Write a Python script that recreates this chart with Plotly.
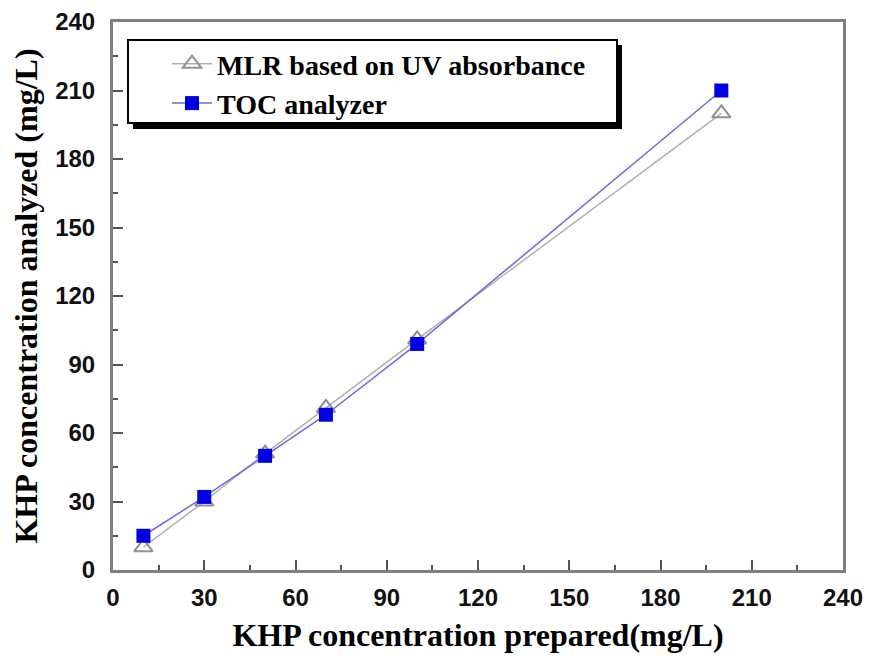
import plotly.graph_objects as go

x_prepared = [10, 30, 50, 70, 100, 200]
mlr_values = [10, 30, 51, 71, 101, 200]
toc_values = [15, 32, 50, 68, 99, 210]
tick_vals = list(range(0, 241, 30))

fig = go.Figure()
fig.add_trace(go.Scatter(
    x=x_prepared, y=mlr_values, mode="lines+markers",
    name="MLR based on UV absorbance",
    line=dict(color="#b0b0b0", width=1.5),
    marker=dict(symbol="triangle-up-open", size=16, color="#909090", line=dict(width=2, color="#909090")),
))
fig.add_trace(go.Scatter(
    x=x_prepared, y=toc_values, mode="lines+markers",
    name="TOC analyzer",
    line=dict(color="#6a6ae0", width=1.5),
    marker=dict(symbol="square", size=14, color="#0000e0", line=dict(width=0)),
))

# reference plot frame (pixels in the photographed page)
L, R, T, B = 113, 843, 22, 570
W, H = R - L, B - T
OFF = 8  # page body margin
def px(x): return (x - L) / W
def py(y): return (B - y) / H

# legend shadow and box
fig.add_shape(type="rect", xref="paper", yref="paper",
              x0=px(133), x1=px(622), y0=py(129), y1=py(45),
              fillcolor="black", line=dict(width=0), layer="above")
fig.add_shape(type="rect", xref="paper", yref="paper",
              x0=px(128), x1=px(617), y0=py(123), y1=py(40),
              fillcolor="white", line=dict(width=2, color="black"), layer="above")

title_font = dict(family="Liberation Serif, Times New Roman", size=32, color="black", weight="bold")
axis_common = dict(
    range=[0, 240], tickvals=tick_vals, ticks="inside", ticklen=10, tickwidth=2,
    tickcolor="#555555", showline=True, linecolor="#808080", linewidth=3,
    mirror=True, showgrid=False, zeroline=False, automargin=False,
    tickfont=dict(family="Liberation Sans, Arial", size=24, color="#111111", weight="bold"),
    minor=dict(ticks="inside", ticklen=5, tickwidth=1.5, tickcolor="#555555", dtick=15),
)
fig.update_xaxes(**axis_common, ticklabelstandoff=4,
                 title=dict(text="KHP concentration prepared(mg/L)", standoff=14, font=title_font))
fig.update_yaxes(**axis_common, ticklabelstandoff=10,
                 title=dict(text="KHP concentration analyzed (mg/L)", standoff=12, font=title_font))

fig.update_layout(
    width=877, height=662,
    margin=dict(l=L - OFF, r=877 - R + OFF, t=T - OFF, b=662 - B + OFF, autoexpand=False),
    paper_bgcolor="white", plot_bgcolor="white",
    legend=dict(x=px(167), y=py(39), xanchor="left", yanchor="top",
                bgcolor="rgba(0,0,0,0)", borderwidth=0,
                font=dict(family="Liberation Serif, Times New Roman", size=28, color="black", weight="bold"),
                itemwidth=40, tracegroupgap=0),
    showlegend=True,
)
fig.write_html("out.html")
